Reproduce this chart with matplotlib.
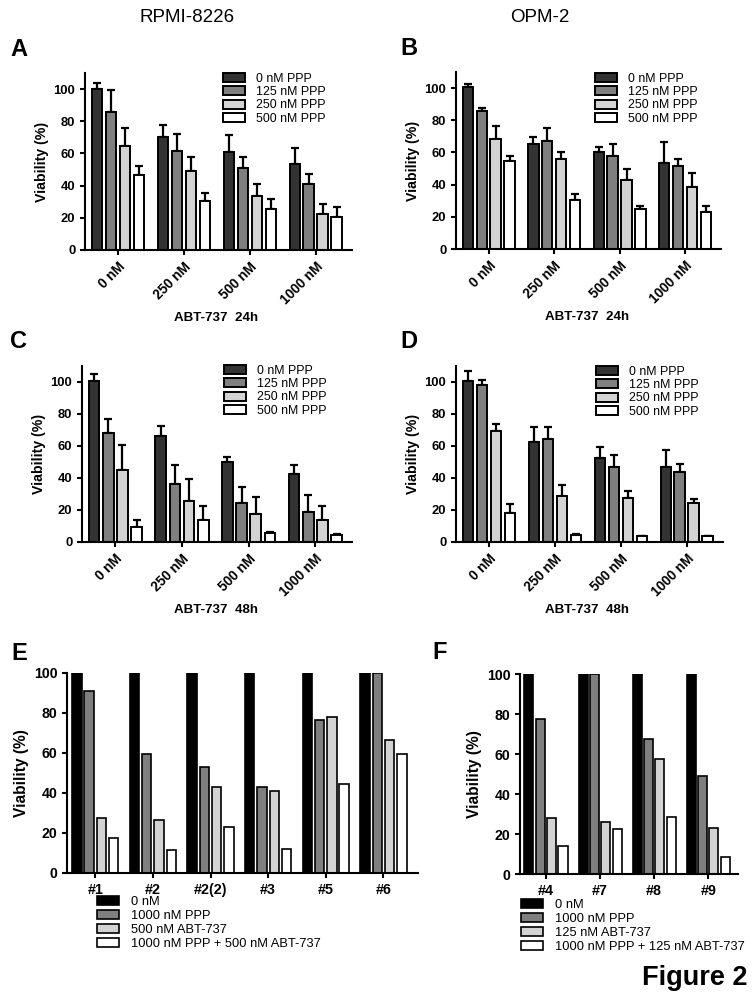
import matplotlib
matplotlib.use("Agg")
import matplotlib.pyplot as plt
from matplotlib.patches import Patch
import numpy as np

plt.rcParams['font.family'] = ['Liberation Sans', 'DejaVu Sans']

# ---------------- data ----------------
abt_groups = ['0 nM', '250 nM', '500 nM', '1000 nM']
ppp_labels = ['0 nM PPP', '125 nM PPP', '250 nM PPP', '500 nM PPP']

# rows: PPP level (0,125,250,500); columns: ABT-737 (0,250,500,1000 nM)
A_vals = [[100, 70.1, 60.8, 53.6], [85.7, 61.8, 50.8, 41.0],
          [64.7, 48.8, 33.6, 22.5], [46.7, 30.5, 25.5, 20.5]]
A_errs = [[4.0, 7.3, 10.8, 9.9], [13.9, 10.6, 6.9, 6.5],
          [11.4, 8.9, 7.7, 6.0], [5.6, 5.2, 6.5, 6.5]]

B_vals = [[100.5, 65.0, 60.0, 53.5], [85.5, 67.0, 58.0, 51.5],
          [68.5, 56.0, 43.0, 38.5], [54.5, 30.5, 25.0, 23.0]]
B_errs = [[2.0, 4.5, 3.5, 13.0], [2.0, 8.0, 7.5, 4.5],
          [8.0, 4.5, 7.0, 8.5], [3.0, 3.5, 1.5, 3.5]]

C_vals = [[100.5, 66.0, 50.0, 42.5], [68.0, 36.5, 24.5, 19.0],
          [45.0, 25.5, 17.5, 13.5], [9.5, 13.5, 5.5, 4.5]]
C_errs = [[4.5, 6.5, 3.0, 5.5], [9.0, 11.5, 10.0, 10.5],
          [15.5, 14.0, 10.5, 9.0], [4.5, 9.0, 1.0, 0.5]]

D_vals = [[100.5, 62.5, 52.5, 47.0], [98.0, 64.5, 47.0, 43.5],
          [69.5, 29.0, 27.5, 24.5], [18.0, 4.5, 3.5, 3.5]]
D_errs = [[6.5, 9.5, 7.0, 10.5], [3.0, 7.5, 7.5, 5.0],
          [4.0, 6.5, 4.5, 2.5], [6.0, 0.5, 0.5, 0.5]]

E_samples = ['#1', '#2', '#2(2)', '#3', '#5', '#6']
E_labels = ['0 nM', '1000 nM PPP', '500 nM ABT-737', '1000 nM PPP + 500 nM ABT-737']
E_ctrl = [100, 100, 100, 100, 100, 100]
E_ppp = [91.0, 59.5, 53.0, 43.0, 76.5, 100.0]
E_abt = [27.5, 26.5, 43.0, 41.0, 78.0, 66.5]
E_combo = [17.5, 11.5, 23.0, 12.0, 44.5, 59.5]

F_samples = ['#4', '#7', '#8', '#9']
F_labels = ['0 nM', '1000 nM PPP', '125 nM ABT-737', '1000 nM PPP + 125 nM ABT-737']
F_ctrl = [100, 100, 100, 100]
F_ppp = [77.5, 100.0, 67.5, 49.0]
F_abt = [28.0, 26.0, 57.5, 23.0]
F_combo = [14.0, 22.5, 28.5, 8.5]

# ---------------- styling ----------------
W, H = 756, 999
fig = plt.figure(figsize=(W / 100, H / 100), dpi=100)

colors_AD = ['#333333', '#7f7f7f', '#d3d3d3', '#ffffff']
colors_EF = ['#000000', '#7f7f7f', '#d3d3d3', '#ffffff']


def ax_px(l, r, t, b):
    return fig.add_axes([l / W, 1 - b / H, (r - l) / W, (b - t) / H])


def style_axes(ax, ysize, spine_lw=1.5):
    for s in ['top', 'right']:
        ax.spines[s].set_visible(False)
    for s in ['left', 'bottom']:
        ax.spines[s].set_linewidth(spine_lw)
    ax.tick_params(axis='both', direction='out', length=3.5, width=1.5)
    for lab in ax.get_yticklabels():
        lab.set_fontweight('bold')
        lab.set_fontsize(ysize)


def panel_AD(box, vals, errs, leg_xy):
    ax = ax_px(*box)
    x = np.arange(len(abt_groups))
    pitch = 0.212
    width = 0.16
    for i in range(4):
        pos = x + (i - 1.5) * pitch
        v = np.array(vals[i])
        e = np.array(errs[i])
        ax.bar(pos, v, width, color=colors_AD[i], edgecolor='black',
               linewidth=1.4, zorder=2, label=ppp_labels[i])
        ax.errorbar(pos, v, yerr=[np.zeros_like(e), e], fmt='none',
                    ecolor='black', elinewidth=1.6, capsize=3.0,
                    capthick=1.6, zorder=1)
    ax.set_xlim(-0.5, 3.55)
    ax.set_ylim(0, 110)
    ax.set_yticks([0, 20, 40, 60, 80, 100])
    ax.set_xticks(x)
    ax.set_xticklabels(abt_groups, rotation=45, ha='right',
                       rotation_mode='anchor', fontweight='bold', fontsize=9.8)
    ax.set_ylabel('Viability (%)', fontweight='bold', fontsize=10.2, labelpad=3)
    style_axes(ax, 9.4)
    handles = [Patch(facecolor=colors_AD[i], edgecolor='black', linewidth=1.4)
               for i in range(4)]
    ax.legend(handles, ppp_labels, loc='upper left',
              bbox_to_anchor=(leg_xy[0] / W, 1 - leg_xy[1] / H),
              bbox_transform=fig.transFigure, frameon=False, fontsize=8.9,
              borderpad=0, borderaxespad=0, handlelength=1.8,
              handleheight=0.75, handletextpad=0.85, labelspacing=0.1)
    return ax


def panel_EF(box, samples, series, labels, xlim, pitch, width, leg_xy):
    ax = ax_px(*box)
    x = np.arange(len(samples))
    for i in range(4):
        pos = x + (i - 1.5) * pitch
        ax.bar(pos, series[i], width, color=colors_EF[i], edgecolor='black',
               linewidth=1.2, zorder=2)
    ax.set_xlim(*xlim)
    ax.set_ylim(0, 100)
    ax.set_yticks([0, 20, 40, 60, 80, 100])
    ax.set_xticks(x)
    ax.set_xticklabels(samples, fontweight='bold', fontsize=10.3)
    ax.set_ylabel('Viability (%)', fontweight='bold', fontsize=11.2, labelpad=3)
    style_axes(ax, 10.2)
    handles = [Patch(facecolor=colors_EF[i], edgecolor='black', linewidth=1.2)
               for i in range(4)]
    ax.legend(handles, labels, loc='upper left',
              bbox_to_anchor=(leg_xy[0] / W, 1 - leg_xy[1] / H),
              bbox_transform=fig.transFigure, frameon=False, fontsize=9.3,
              borderpad=0, borderaxespad=0, handlelength=1.7,
              handleheight=0.7, handletextpad=0.9, labelspacing=0.14)
    return ax


panel_AD((85, 352, 73, 250), A_vals, A_errs, (223, 73))
panel_AD((456, 721, 72, 249), B_vals, B_errs, (595, 73))
panel_AD((82, 352, 366, 542), C_vals, C_errs, (224, 365))
panel_AD((456, 723, 366, 542), D_vals, D_errs, (596, 366))

panel_EF((67, 418, 673, 873), E_samples, [E_ctrl, E_ppp, E_abt, E_combo],
         E_labels, (-0.49, 5.6), 0.213, 0.165, (97, 896))
panel_EF((520, 738, 674, 874), F_samples, [F_ctrl, F_ppp, F_abt, F_combo],
         F_labels, (-0.48, 3.55), 0.21, 0.167, (521, 899))

# ---------------- figure texts ----------------
def ftext(x, y, s, **kw):
    fig.text(x / W, 1 - y / H, s, **kw)

ftext(187, 18, 'RPMI-8226', ha='center', va='center', fontsize=13.5)
ftext(540, 18, 'OPM-2', ha='center', va='center', fontsize=13.5)

for lx, ly, letter in [(10, 56, 'A'), (400, 55, 'B'), (10, 348, 'C'),
                       (400, 348, 'D'), (11, 660, 'E'), (432, 659, 'F')]:
    ftext(lx, ly, letter, ha='left', va='baseline', fontsize=17,
          fontweight='bold')

for cx, cy, s in [(216, 318, 'ABT-737  24h'), (587, 317, 'ABT-737  24h'),
                  (216, 610, 'ABT-737  48h'), (587, 610, 'ABT-737  48h')]:
    ftext(cx, cy, s, ha='center', va='center', fontsize=9.6,
          fontweight='bold')

ftext(748, 978, 'Figure 2', ha='right', va='center', fontsize=19.5,
      fontweight='bold')

fig.savefig('out.png', dpi=100)
